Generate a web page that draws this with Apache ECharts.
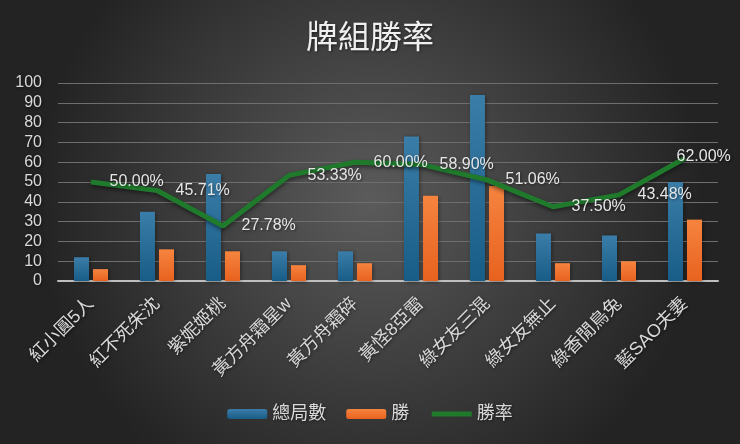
<!DOCTYPE html>
<html>
<head>
<meta charset="utf-8">
<script src="https://cdn.jsdelivr.net/npm/echarts@6/dist/echarts.min.js"></script>
<style>
html,body{margin:0;padding:0;width:740px;height:444px;overflow:hidden;background:#333;}
#c{width:740px;height:444px;}
</style>
</head>
<body>
<div id="c"></div>
<script>
var categories = ['紅小圓5人','紅不死朱沈','紫妮姬桃','黃方舟霜星w','黃方舟霜碎','黃怪8亞雷','綠女友三混','綠女友無止','綠香閒鳥兔','藍SAO夫妻'];
var totalGames = [12, 35, 54, 15, 15, 73, 94, 24, 23, 50];
var wins = [6, 16, 15, 8, 9, 43, 48, 9, 10, 31];
var winRate = [50.00, 45.71, 27.78, 53.33, 60.00, 58.90, 51.06, 37.50, 43.48, 62.00];

var FONT = '"Liberation Sans", "Noto Sans CJK TC", sans-serif';
var TXT = '#d9d9d9';
var shadow = {textShadowColor:'rgba(0,0,0,0.55)', textShadowBlur:3, textShadowOffsetX:1, textShadowOffsetY:1};

var rateData = winRate.map(function(v, i){
  var d = {value: v};
  if (i === categories.length - 1) d.label = {position: [-8, -9], distance: 0};
  return d;
});

var chart = echarts.init(document.getElementById('c'));
chart.setOption({
  backgroundColor: {
    type: 'radial', x: 0.5, y: 0.45, r: 0.75,
    colorStops: [{offset: 0, color: '#5b5b5b'}, {offset: 1, color: '#232323'}]
  },
  textStyle: {fontFamily: FONT},
  title: {
    text: '牌組勝率', left: 'center', top: 18,
    textStyle: Object.assign({color: '#efefef', fontSize: 32, fontWeight: 'normal', fontFamily: FONT}, shadow)
  },
  legend: {
    bottom: 16, left: 'center',
    itemWidth: 40, itemHeight: 10, itemGap: 20,
    textStyle: Object.assign({color: TXT, fontSize: 18}, shadow),
    data: ['總局數', '勝', {name: '勝率', itemStyle: {opacity: 0}, lineStyle: {width: 5, color: '#1f7a2c'}}]
  },
  grid: {left: 58, right: 22, top: 83, bottom: 163},
  xAxis: {
    type: 'category', data: categories,
    axisLine: {lineStyle: {color: '#bfbfbf', width: 2}},
    axisTick: {show: false},
    axisLabel: Object.assign({color: TXT, fontSize: 18, rotate: 45, margin: 20, interval: 0}, shadow)
  },
  yAxis: {
    type: 'value', min: 0, max: 100, interval: 10,
    axisLine: {show: false}, axisTick: {show: false},
    axisLabel: Object.assign({color: TXT, fontSize: 16, margin: 16}, shadow),
    splitLine: {lineStyle: {color: '#6e6e6e', width: 1}}
  },
  series: [
    {
      name: '總局數', type: 'bar', data: totalGames,
      barWidth: 15, barGap: '27%',
      itemStyle: {
        color: {type:'linear', x:0, y:0, x2:0, y2:1, colorStops:[{offset:0,color:'#3a7da8'},{offset:1,color:'#185d87'}]},
        shadowColor: 'rgba(0,0,0,0.4)', shadowBlur: 4, shadowOffsetX: 1, shadowOffsetY: 1
      }
    },
    {
      name: '勝', type: 'bar', data: wins,
      barWidth: 15,
      itemStyle: {
        color: {type:'linear', x:0, y:0, x2:0, y2:1, colorStops:[{offset:0,color:'#f5843f'},{offset:1,color:'#e8621f'}]},
        shadowColor: 'rgba(0,0,0,0.4)', shadowBlur: 4, shadowOffsetX: 1, shadowOffsetY: 1
      }
    },
    {
      name: '勝率', type: 'line', data: rateData,
      symbol: 'circle', symbolSize: 1, showSymbol: true, smooth: false,
      itemStyle: {color: '#1f7a2c'},
      lineStyle: {color: '#1f7a2c', width: 5, shadowColor: 'rgba(0,0,0,0.5)', shadowBlur: 4, shadowOffsetY: 2},
      label: Object.assign({
        show: true, position: 'right', distance: 18,
        color: '#e6e6e6', fontSize: 16,
        formatter: function(p){ return p.value.toFixed(2) + '%'; }
      }, shadow),
      labelLayout: {hideOverlap: false},
      z: 5
    }
  ]
});
</script>
</body>
</html>
